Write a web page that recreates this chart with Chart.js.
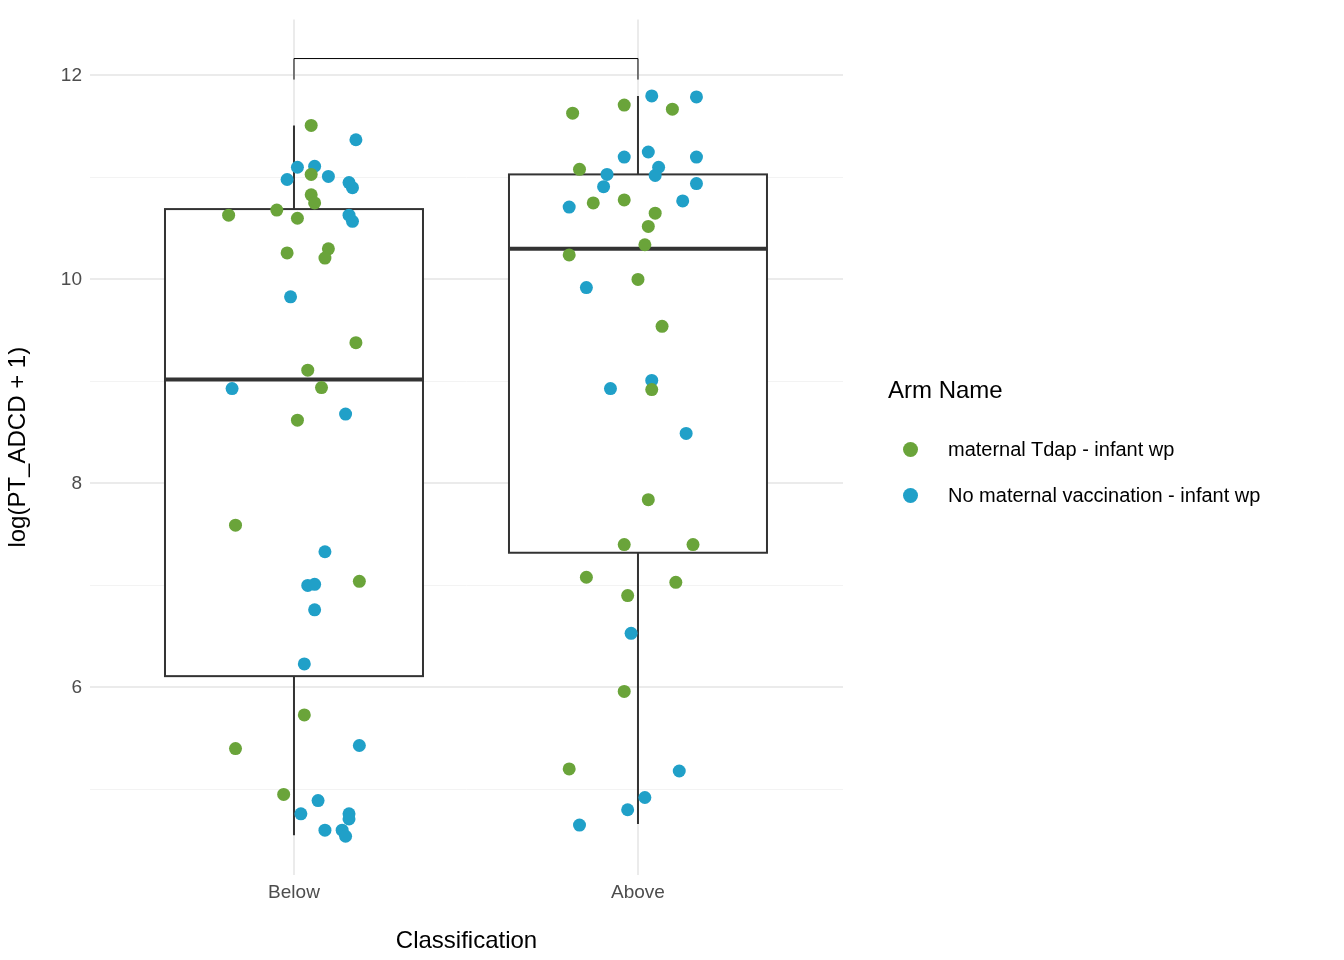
<!DOCTYPE html>
<html>
<head>
<meta charset="utf-8">
<script src="https://cdn.jsdelivr.net/npm/chart.js@4"></script>
<style>
  body { margin: 0; background: #fff; font-family: "Liberation Sans", Arial, sans-serif; }
  #wrap { position: relative; width: 1344px; height: 960px; }
  #legend { position: absolute; left: 888px; top: 376px; color: #000; }
  #legend .ttl { font-size: 24px; margin-bottom: 22px; }
  #legend .it { font-size: 20px; height: 46px; display: flex; align-items: center; }
  #legend .dot { width: 15px; height: 15px; border-radius: 50%; margin: 0 30px 0 15px; }
</style>
</head>
<body>
<div id="wrap">
  <canvas id="c" width="1344" height="960"></canvas>
  <div id="legend">
    <div class="ttl">Arm Name</div>
    <div class="it"><span class="dot" style="background:#6aa43a"></span>maternal Tdap - infant wp</div>
    <div class="it"><span class="dot" style="background:#20a0c8"></span>No maternal vaccination - infant wp</div>
  </div>
</div>
<script>
const categories = ["Below", "Above"];
const yTicks = [5, 6, 7, 8, 9, 10, 11, 12];

// box stats per category: [whiskerLow, q1, median, q3, whiskerHigh]
const boxStats = [
  [4.55, 6.11, 9.02, 10.69, 11.51],
  [4.66, 7.32, 10.30, 11.03, 11.80]
];

// points: category index, jitter, value
const greenCat = [0,0,0,0,0,0,0,0,0,0,0,0,0,0,0,0,0,0,0, 1,1,1,1,1,1,1,1,1,1,1,1,1,1,1,1,1,1,1,1,1];
const greenJit = [.05,.05,.05,.06,-.05,.01,-.19,-.02,.10,.09,.18,.04,.08,.01,-.17,.19,.03,-.17,-.03,
  -.19,-.04,.10,-.17,-.13,-.04,.05,.03,.02,-.20,0,.07,.04,.03,-.04,.16,-.15,.11,-.03,-.04,-.20];
const greenVal = [11.51,11.03,10.83,10.75,10.68,10.60,10.63,10.26,10.30,10.21,9.38,9.11,8.94,8.62,7.59,7.04,5.73,5.40,4.95,
  11.63,11.71,11.67,11.08,10.75,10.78,10.65,10.52,10.34,10.24,10.00,9.54,8.92,7.84,7.40,7.40,7.08,7.03,6.90,5.96,5.20];

const blueCat = [0,0,0,0,0,0,0,0,0,0,0,0,0,0,0,0,0,0,0,0,0,0,0,0,0, 1,1,1,1,1,1,1,1,1,1,1,1,1,1,1,1,1,1,1,1,1];
const blueJit = [-.02,.01,.06,.10,.16,.17,.16,.17,-.01,-.18,.15,.09,.04,.06,.06,.03,.19,.07,.02,.16,.16,.09,.14,.15,.18,
  .04,.17,.03,-.04,.06,-.09,.05,-.10,.17,.17,.13,-.20,-.15,-.08,.04,.14,-.02,.12,.02,-.03,-.17];
const blueVal = [10.98,11.10,11.11,11.01,10.95,10.90,10.63,10.57,9.83,8.93,8.68,7.33,7.00,7.01,6.76,6.23,5.43,4.89,4.76,4.76,4.71,4.60,4.60,4.54,11.37,
  11.80,11.79,11.25,11.20,11.10,11.03,11.02,10.91,11.20,10.94,10.77,10.71,9.92,8.93,9.01,8.49,6.53,5.18,4.92,4.80,4.65];

const bracketY = 12.166, bracketTick = 11.96;

function pts(cat, jit, val) {
  return val.map((v, i) => ({ x: cat[i] + 1 + jit[i], y: v }));
}

const boxPlugin = {
  id: "boxes",
  beforeDatasetsDraw(chart) {
    const { ctx, scales: { x, y } } = chart;
    ctx.save();
    ctx.strokeStyle = "#333";
    boxStats.forEach((s, i) => {
      const cx = x.getPixelForValue(i + 1);
      const half = x.getPixelForValue(i + 1.375) - cx;
      ctx.lineWidth = 2;
      ctx.beginPath();
      ctx.moveTo(cx, y.getPixelForValue(s[0])); ctx.lineTo(cx, y.getPixelForValue(s[1]));
      ctx.moveTo(cx, y.getPixelForValue(s[3])); ctx.lineTo(cx, y.getPixelForValue(s[4]));
      ctx.stroke();
      const top = y.getPixelForValue(s[3]), bot = y.getPixelForValue(s[1]);
      ctx.fillStyle = "#fff";
      ctx.fillRect(cx - half, top, half * 2, bot - top);
      ctx.strokeRect(cx - half, top, half * 2, bot - top);
      ctx.lineWidth = 4;
      ctx.beginPath();
      ctx.moveTo(cx - half, y.getPixelForValue(s[2])); ctx.lineTo(cx + half, y.getPixelForValue(s[2]));
      ctx.stroke();
    });
    ctx.strokeStyle = "#000";
    ctx.lineWidth = 1;
    ctx.beginPath();
    const x1 = x.getPixelForValue(1), x2 = x.getPixelForValue(2);
    ctx.moveTo(x1, y.getPixelForValue(bracketTick));
    ctx.lineTo(x1, y.getPixelForValue(bracketY));
    ctx.lineTo(x2, y.getPixelForValue(bracketY));
    ctx.lineTo(x2, y.getPixelForValue(bracketTick));
    ctx.stroke();
    ctx.restore();
  }
};

new Chart(document.getElementById("c"), {
  type: "scatter",
  data: {
    datasets: [
      { data: pts(greenCat, greenJit, greenVal), backgroundColor: "#6aa43a", borderWidth: 0, pointRadius: 6.5 },
      { data: pts(blueCat, blueJit, blueVal), backgroundColor: "#20a0c8", borderWidth: 0, pointRadius: 6.5 }
    ]
  },
  options: {
    responsive: false,
    animation: false,
    layout: { padding: { left: 0, top: 15, right: 501, bottom: 0 } },
    plugins: { legend: { display: false }, tooltip: { enabled: false } },
    scales: {
      x: {
        type: "linear", min: 0.407, max: 2.596,
        afterBuildTicks: s => { s.ticks = [{ value: 1 }, { value: 2 }]; },
        afterFit: s => { s.height = 85; },
        ticks: { callback: v => categories[v - 1], color: "#4d4d4d", font: { size: 19 }, padding: 6 },
        grid: { color: "#ebebeb", lineWidth: 2, drawTicks: false },
        border: { display: false },
        title: { display: true, text: "Classification", color: "#000", font: { size: 24 }, padding: { top: 4 } }
      },
      y: {
        min: 4.16, max: 12.55,
        afterBuildTicks: s => { s.ticks = yTicks.map(v => ({ value: v })); },
        afterFit: s => { s.width = 90; },
        ticks: { callback: v => (v % 2 === 0 ? v : ""), color: "#4d4d4d", font: { size: 19 }, padding: 8 },
        grid: { color: c => (c.tick && c.tick.value % 2 === 0 ? "#ebebeb" : "#f3f3f3"), lineWidth: c => (c.tick && c.tick.value % 2 === 0 ? 2 : 1), drawTicks: false },
        border: { display: false },
        title: { display: true, text: "log(PT_ADCD + 1)", color: "#000", font: { size: 24 }, padding: { bottom: 4 } }
      }
    }
  },
  plugins: [boxPlugin]
});
</script>
</body>
</html>
